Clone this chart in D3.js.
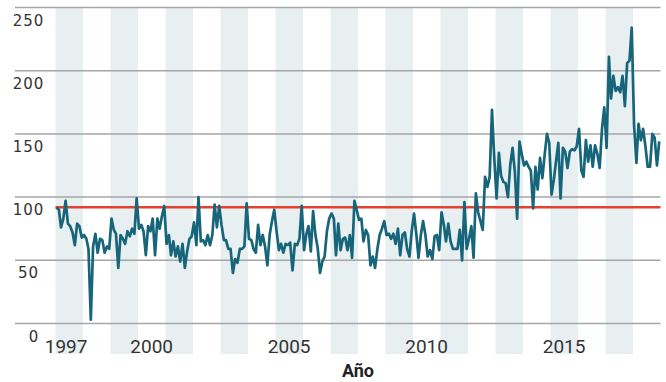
<!DOCTYPE html>
<html><head><meta charset="utf-8">
<script src="https://cdn.jsdelivr.net/npm/d3@7"></script>
<style>body{margin:0;background:#fff} svg{display:block}</style>
</head><body><svg id="chart" width="666" height="382"></svg>
<script>
// ---- data ----
const startYear = 1997;
const endYear = 2018;
const values1997_2002 = [
  [92, 90, 76, 83, 97, 79, 77, 72, 62, 79, 77, 68],
  [70, 67, 59, 3, 61, 71, 56, 67, 66, 56, 61, 59],
  [83, 74, 71, 44, 70, 67, 63, 73, 69, 75, 71, 99],
  [75, 78, 73, 54, 77, 73, 83, 54, 83, 75, 85, 93],
  [63, 70, 54, 65, 53, 61, 49, 63, 44, 57, 67, 69],
  [80, 62, 100, 65, 66, 62, 70, 62, 70, 94, 76, 93]
];
const values2003_2008 = [
  [78, 66, 66, 59, 59, 40, 51, 48, 59, 59, 61, 95],
  [67, 66, 59, 56, 78, 62, 70, 61, 46, 70, 81, 90],
  [73, 58, 63, 56, 63, 62, 64, 42, 63, 62, 67, 93],
  [58, 71, 77, 57, 89, 70, 60, 40, 49, 53, 73, 83],
  [87, 83, 54, 79, 58, 67, 68, 58, 70, 52, 97, 90],
  [82, 83, 65, 74, 70, 46, 53, 44, 59, 70, 75, 81]
];
const values2009_2013 = [
  [70, 71, 67, 71, 63, 75, 54, 70, 72, 59, 53, 73],
  [87, 70, 52, 70, 81, 70, 53, 58, 51, 69, 70, 58],
  [88, 78, 65, 79, 65, 59, 59, 59, 74, 50, 96, 59],
  [67, 77, 52, 103, 88, 81, 74, 116, 108, 116, 169, 131],
  [99, 135, 117, 112, 111, 100, 125, 139, 120, 83, 144, 134]
];
const values2014_2018 = [
  [125, 128, 124, 121, 91, 124, 106, 131, 115, 133, 150, 143],
  [102, 114, 128, 143, 99, 139, 136, 123, 136, 138, 137, 140],
  [154, 121, 116, 145, 128, 141, 124, 141, 134, 123, 154, 171],
  [139, 211, 178, 196, 184, 187, 183, 196, 172, 206, 208, 234],
  [157, 127, 158, 145, 154, 140, 124, 124, 150, 147, 125, 144]
];
const yTicks = [0, 50, 100, 150, 200, 250];
const xTickYears = [1997, 2000, 2005, 2010, 2015];
const referenceLevel = 92;
const xTitle = "Año";

// ---- build series ----
const yearly = [].concat(values1997_2002, values2003_2008, values2009_2013, values2014_2018);
const series = [];
yearly.forEach((row, i) => row.forEach((v, m) => series.push({date: new Date(startYear + i, m, 15), v})));

const svg = d3.select("#chart");
const x = d3.scaleTime().domain([new Date(startYear, 0, 1), new Date(endYear + 1, 0, 1)]).range([55.5, 660.5]);
const y = d3.scaleLinear().domain([0, 250]).range([323.5, 7.5]);

// alternating year bands
const bandYears = d3.range(startYear, endYear + 1).filter(yr => (yr - startYear) % 2 === 0);
svg.append("g").selectAll("rect").data(bandYears).join("rect")
  .attr("x", d => x(new Date(d, 0, 1)))
  .attr("width", d => x(new Date(d + 1, 0, 1)) - x(new Date(d, 0, 1)))
  .attr("y", y(250))
  .attr("height", 354 - y(250))
  .attr("fill", "#e7eff1");

// gridlines
svg.append("g").selectAll("line").data(yTicks).join("line")
  .attr("x1", 15).attr("x2", 660.5)
  .attr("y1", d => y(d)).attr("y2", d => y(d))
  .attr("stroke", "#a6a6a6").attr("stroke-width", 1.5);

// y labels
svg.append("g").selectAll("text").data(yTicks).join("text")
  .attr("x", d => d === 0 ? 34 : 28.5).attr("y", d => y(d) + 18)
  .attr("text-anchor", "middle")
  .attr("font-family", "DejaVu Sans").attr("font-size", 15)
  .attr("letter-spacing", 1)
  .attr("fill", "#333")
  .text(d => d);

// x labels
svg.append("g").selectAll("text").data(xTickYears).join("text")
  .attr("x", d => x(new Date(d, 6, 1)) - (d === startYear ? 3 : 0))
  .attr("y", 352.5)
  .attr("text-anchor", "middle")
  .attr("font-family", "Roboto").attr("font-size", 19)
  .attr("fill", "#333")
  .text(d => d);

// axis title
svg.append("text")
  .attr("x", (x.range()[0] + x.range()[1]) / 2).attr("y", 377)
  .attr("text-anchor", "middle")
  .attr("font-family", "Roboto").attr("font-weight", "bold").attr("font-size", 18)
  .attr("fill", "#222")
  .text(xTitle);

// reference line
svg.append("line")
  .attr("x1", x.range()[0]).attr("x2", x.range()[1])
  .attr("y1", y(referenceLevel)).attr("y2", y(referenceLevel))
  .attr("stroke", "#e8402f").attr("stroke-width", 2.5);

// data line
svg.append("path").datum(series)
  .attr("fill", "none")
  .attr("stroke", "#17657a").attr("stroke-width", 2.7)
  .attr("stroke-linejoin", "round")
  .attr("d", d3.line().x(d => x(d.date)).y(d => y(d.v)));
</script>
</body></html>
